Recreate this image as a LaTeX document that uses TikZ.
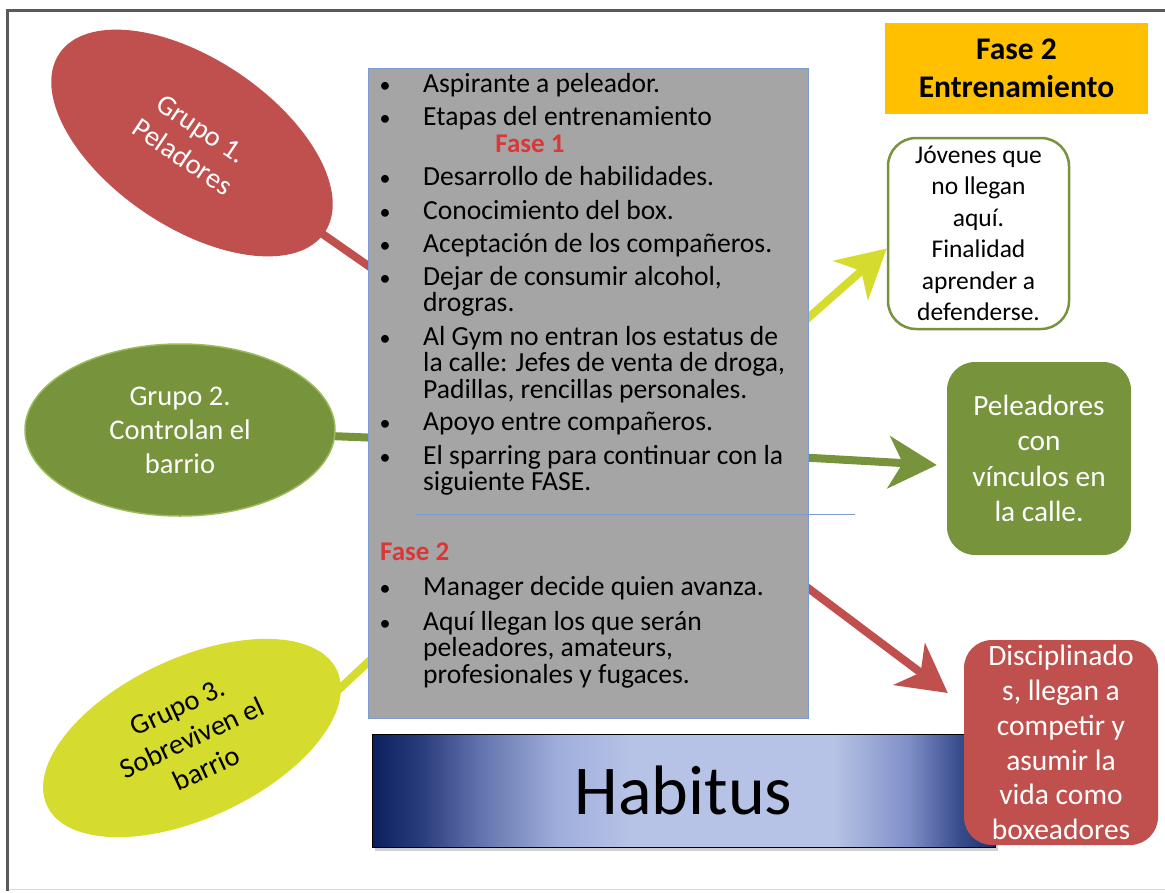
\documentclass[tikz,border=0pt]{standalone}
\usepackage{fontspec}
\setmainfont{Carlito}
\usetikzlibrary{arrows.meta,backgrounds,calc,shapes.geometric}
\definecolor{cred}{HTML}{C0504D}
\definecolor{cgreen}{HTML}{77933C}
\definecolor{cgreenl}{HTML}{9BBB59}
\definecolor{cyellow}{HTML}{D6DC2E}
\definecolor{cgray}{HTML}{A5A5A5}
\definecolor{cblue}{HTML}{7A9CD3}
\definecolor{corange}{HTML}{FFC000}
\definecolor{fred}{HTML}{D83838}
\definecolor{framec}{HTML}{5A5A5A}
\definecolor{navyd}{HTML}{0B1F5E}
\definecolor{navy2}{HTML}{2A3C7C}
\definecolor{navym}{HTML}{6677B0}
\definecolor{navyl}{HTML}{A0AEDC}
\definecolor{habl}{HTML}{B7C3E6}
\definecolor{navyr2}{HTML}{8090C8}
\definecolor{navyr3}{HTML}{3A4E8E}
\definecolor{navyr}{HTML}{1A2F6E}
\pgfdeclarehorizontalshading{habshade}{100bp}{color(0bp)=(navyd); color(25bp)=(navyd); color(29bp)=(navy2); color(34bp)=(navym); color(40bp)=(navyl); color(46bp)=(habl); color(62bp)=(habl); color(68bp)=(navyr2); color(72bp)=(navyr3); color(75bp)=(navyr); color(100bp)=(navyr)}
\newcommand\fsz[2]{\fontsize{#1}{#2}\selectfont}
\begin{document}
\begin{tikzpicture}[x=1pt,y=-1pt,
  item/.style={anchor=base west, inner sep=0pt, font=\fsz{27.6}{26}, text=black},
  bul/.style={anchor=base, inner sep=0pt, font=\fsz{22}{26}},
  faselbl/.style={inner sep=0pt, font=\bfseries\fsz{27}{30}, text=fred},
  grp/.style={ellipse, inner sep=0pt, align=center, font=\fsz{28.5}{34}},
  rbox/.style={rounded corners=28pt, inner sep=0pt, align=center},
  conn/.style={line width=8pt},
  arr/.style={line width=8pt, -{Stealth[length=48pt,width=52pt,inset=14pt]}}]
\useasboundingbox (0,0) rectangle (1165,892);
% frame
\draw[line width=1pt, black!15] (7,889) -- (1165,889);
\draw[line width=3pt, framec] (7,891) -- (7,10) -- (1165,10);

% central gray box
\node[fill=cgray, draw=cblue, line width=0.8pt, minimum width=440pt, minimum height=650pt, inner sep=0pt] (box) at (588,393) {};

% list items
\node[bul] (b1) at (385,92) {•};
\node[item] (t1) at (423,92) {Aspirante a peleador.};
\node[bul] (b2) at (385,125) {•};
\node[item] (t2) at (423,125) {Etapas del entrenamiento};
\node[faselbl, anchor=base] (f1) at (530,152) {Fase 1};
\node[bul] (b3) at (385,185) {•};
\node[item] (t3) at (423,185) {Desarrollo de habilidades.};
\node[bul] (b4) at (385,219) {•};
\node[item] (t4) at (423,219) {Conocimiento del box.};
\node[bul] (b5) at (385,252) {•};
\node[item] (t5) at (423,252) {Aceptación de los compañeros.};
\node[bul] (b6) at (385,285) {•};
\node[item] (t6) at (423,285) {\begin{tabular}[t]{@{}l@{}}Dejar de consumir alcohol,\\drogras.\end{tabular}};
\node[bul] (b7) at (385,345) {•};
\node[item] (t7) at (423,345) {\begin{tabular}[t]{@{}l@{}}Al Gym no entran los estatus de\\la calle: Jefes de venta de droga,\\Padillas, rencillas personales.\end{tabular}};
\node[bul] (b8) at (385,430) {•};
\node[item] (t8) at (423,430) {Apoyo entre compañeros.};
\node[bul] (b9) at (385,464) {•};
\node[item] (t9) at (423,464) {\begin{tabular}[t]{@{}l@{}}El sparring para continuar con la\\siguiente FASE.\end{tabular}};
\coordinate (s1) at (416,514);
\coordinate (s2) at (855,514);
\draw[cblue, line width=0.8pt] (s1) -- (s2);
\node[faselbl, anchor=base west] (f2) at (380,560) {Fase 2};
\node[bul] (b10) at (385,595) {•};
\node[item] (t10) at (423,595) {Manager decide quien avanza.};
\node[bul] (b11) at (385,630) {•};
\node[item] (t11) at (423,630) {\begin{tabular}[t]{@{}l@{}}Aquí llegan los que serán\\peleadores, amateurs,\\profesionales y fugaces.\end{tabular}};

% Habitus bar
\fill[black, opacity=0.18] (375,738) rectangle (998,851);
\node[draw=black, line width=0.8pt, shading=habshade, minimum width=623pt, minimum height=113pt, inner sep=0pt, font=\fsz{70}{80}] (hab) at (683.5,790.5) {Habitus};

% right side
\node[fill=corange, minimum width=263pt, minimum height=91pt, inner sep=0pt, align=center, font=\bfseries\fsz{31.5}{38}] (fase) at (1016.5,68) {Fase 2\\Entrenamiento};
\node[rbox, draw=cgreen, line width=2.5pt, fill=white, minimum width=181pt, minimum height=191pt, font=\fsz{25.5}{31.5}] (wbox) at (978.5,233.5) {Jóvenes que\\no llegan\\aquí.\\Finalidad\\aprender a\\defenderse.};
\node[rbox, fill=cgreen, text=white, minimum width=184pt, minimum height=193pt, font=\fsz{29.3}{35.3}] (gbox) at (1039,458.5) {Peleadores\\con\\vínculos en\\la calle.};
\node[rbox, fill=cred, text=white, minimum width=194pt, minimum height=205pt, font=\fsz{29.5}{34.8}] (rbox) at (1061,742.5) {Disciplinado\\s, llegan a\\competir y\\asumir la\\vida como\\boxeadores};

% group ellipses
\node[grp, fill=cred, text=white, minimum width=320pt, minimum height=168pt, rotate=-34] (g1) at (192,143) {Grupo 1.\\Peladores};
\node[grp, fill=cgreen, draw=cgreenl, line width=1.5pt, text=white, minimum width=310pt, minimum height=172pt] (g2) at (180,430) {Grupo 2.\\Controlan el\\barrio};
\node[grp, fill=cyellow, text=black, minimum width=320pt, minimum height=160pt, rotate=25] (g3) at (192,738) {Grupo 3.\\Sobreviven el\\barrio};

% connector end points
\coordinate (c1) at (380,274);
\coordinate (c2) at (380,438);
\coordinate (c3a) at (290,735);
\coordinate (c3) at (380,651);
\coordinate (a1) at (795,329.5);
\coordinate (a2) at (795,457);
\coordinate (a3) at (800,582);

\begin{scope}[on background layer]
\draw[conn, cred] (g1.center) -- (c1);
\draw[conn, cgreen] (g2.center) -- (c2);
\draw[conn, cyellow] (c3a) -- (c3);
\draw[arr, cyellow] (a1) -- ($(wbox.west)+(0,15)$);
\draw[arr, cgreen] (a2) -- ($(gbox.west)+(-10,6.5)$);
\draw[arr, cred] (a3) -- ($(rbox.west)+(-16,-49.5)$);
\end{scope}
\end{tikzpicture}
\end{document}
